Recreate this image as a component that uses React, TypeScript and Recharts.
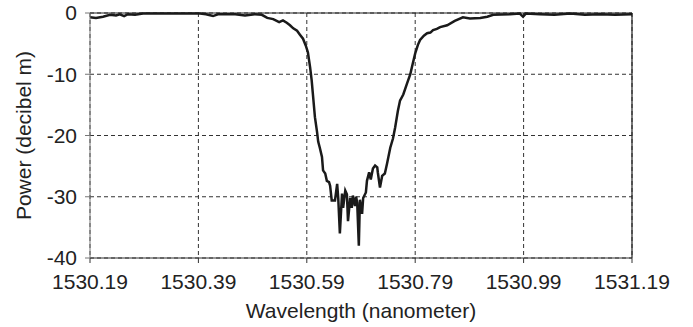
import React from 'react';
import {
  LineChart,
  Line,
  XAxis,
  YAxis,
  CartesianGrid,
  ReferenceLine,
} from 'recharts';

// wavelength samples (nm)
const wavelength = [
  1530.19, 1530.201, 1530.214, 1530.227, 1530.238, 1530.245, 1530.253, 1530.26, 1530.273, 1530.288,
  1530.319, 1530.356, 1530.393, 1530.404, 1530.417, 1530.426, 1530.458, 1530.476, 1530.494, 1530.507,
  1530.517, 1530.528, 1530.539, 1530.546, 1530.553, 1530.559, 1530.565, 1530.572, 1530.577, 1530.583,
  1530.588, 1530.592, 1530.596, 1530.599, 1530.601, 1530.605, 1530.609, 1530.611, 1530.614, 1530.618,
  1530.62, 1530.624, 1530.627, 1530.631, 1530.633, 1530.636, 1530.642, 1530.646, 1530.648, 1530.651,
  1530.655, 1530.657, 1530.661, 1530.664, 1530.666, 1530.67, 1530.673, 1530.675, 1530.679, 1530.681,
  1530.683, 1530.686, 1530.688, 1530.692, 1530.694, 1530.699, 1530.701, 1530.705, 1530.708, 1530.712,
  1530.716, 1530.72, 1530.721, 1530.725, 1530.729, 1530.734, 1530.738, 1530.744, 1530.749, 1530.753,
  1530.758, 1530.762, 1530.768, 1530.775, 1530.781, 1530.784, 1530.79, 1530.795, 1530.799, 1530.806,
  1530.812, 1530.818, 1530.823, 1530.83, 1530.836, 1530.849, 1530.863, 1530.878, 1530.891, 1530.91,
  1530.923, 1530.934, 1530.965, 1530.983, 1530.989, 1530.994, 1531.02, 1531.047, 1531.076, 1531.103,
  1531.131, 1531.159, 1531.19,
];

// power (dBm) at each wavelength
const power = [
  -0.7, -0.8, -0.6, -0.3, -0.4, -0.2, -0.5, -0.2, -0.3, -0.1,
  -0.1, -0.1, -0.1, -0.2, -0.5, -0.2, -0.2, -0.4, -0.2, -0.3,
  -0.8, -1.0, -1.5, -1.2, -1.6, -2.0, -2.5, -2.9, -3.5, -4.2,
  -5.3, -6.4, -8.8, -11.0, -13.0, -17.0, -19.5, -21.0, -22.0, -23.5,
  -25.7, -26.2, -27.4, -27.6, -28.2, -30.6, -30.6, -27.9, -30.2, -36.0,
  -29.5, -31.8, -29.0, -29.6, -34.0, -30.2, -31.8, -29.8, -31.5, -30.0,
  -31.0, -38.0, -30.5, -32.8, -30.2, -29.3, -27.4, -26.0, -27.2, -25.4,
  -24.9, -25.2, -26.0, -28.5, -26.6, -26.2, -24.6, -22.0, -20.5, -18.7,
  -16.0, -14.3, -13.3, -11.5, -10.0, -8.8, -6.6, -5.2, -4.4, -3.7,
  -3.3, -3.2, -2.8, -2.6, -2.3, -2.0, -1.3, -0.7, -0.9, -0.8,
  -0.6, -0.3, -0.2, -0.1, -0.6, -0.1, -0.2, -0.3, -0.1, -0.3,
  -0.2, -0.3, -0.2,
];

const xTicks = [1530.19, 1530.39, 1530.59, 1530.79, 1530.99, 1531.19];
const yTicks = [0, -10, -20, -30, -40];

const data = wavelength.map((w, i) => ({ w, p: power[i] }));

const font = { fontFamily: '"Liberation Sans", Arial, sans-serif', fontSize: 21, fill: '#222' };

export default function App() {
  return (
    <div style={{ position: 'absolute', left: 0, top: 0, background: '#fff' }}>
      <LineChart
        width={693}
        height={327}
        data={data}
        margin={{ top: 13, right: 61, left: 0, bottom: 9 }}
      >
        <CartesianGrid strokeDasharray="4 3" stroke="#333" />
        <XAxis
          dataKey="w"
          type="number"
          domain={[1530.19, 1531.19]}
          ticks={xTicks}
          tickFormatter={(v: number) => v.toFixed(2)}
          height={60}
          tickSize={5}
          tickMargin={11}
          stroke="#333"
          tick={font}
          label={{ value: 'Wavelength (nanometer)', position: 'insideBottom', offset: 0, style: font }}
        />
        <YAxis
          type="number"
          domain={[-40, 0]}
          ticks={yTicks}
          width={90}
          tickSize={5}
          tickMargin={8}
          stroke="#777"
          tick={font}
          label={{
            value: 'Power (decibel m)',
            angle: -90,
            position: 'insideLeft',
            offset: 24,
            style: { ...font, textAnchor: 'middle' },
          }}
        />
        <ReferenceLine y={0} stroke="#222" strokeWidth={1.2} />
        <ReferenceLine x={1531.19} stroke="#222" strokeWidth={1.2} />
        <Line
          dataKey="p"
          type="linear"
          stroke="#1a1a1a"
          strokeWidth={2.5}
          dot={false}
          isAnimationActive={false}
        />
      </LineChart>
    </div>
  );
}
